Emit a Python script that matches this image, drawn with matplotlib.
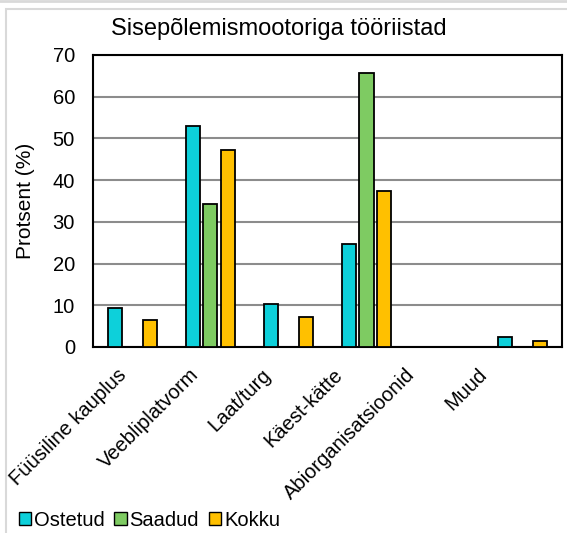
import matplotlib.pyplot as plt
import numpy as np
from matplotlib.patches import Rectangle
from matplotlib.lines import Line2D
from matplotlib.transforms import ScaledTranslation

plt.rcParams['font.family'] = ['Liberation Sans', 'DejaVu Sans']

categories = ['Füüsiline kauplus', 'Veebliplatvorm', 'Laat/turg',
              'Käest-kätte', 'Abiorganisatsioonid', 'Muud']
ostetud = [9.3, 53.0, 10.4, 24.6, 0, 2.3]
saadud = [0, 34.3, 0, 65.7, 0, 0]
kokku = [6.5, 47.2, 7.2, 37.3, 0, 1.5]

series = [('Ostetud', ostetud, '#0DD0DA'),
          ('Saadud', saadud, '#7ECB62'),
          ('Kokku', kokku, '#FFC000')]

fig = plt.figure(figsize=(5.67, 5.33), dpi=100)
ax = fig.add_axes([0.164, 0.349, 0.827, 0.548])

x = np.arange(len(categories))
width = 0.18
step = 0.224
for i, (name, vals, col) in enumerate(series):
    vals = np.array(vals, dtype=float)
    # zero values are not drawn in the original
    mask = vals > 0
    ax.bar(x[mask] + (i - 1) * step, vals[mask], width, color=col,
           edgecolor='black', linewidth=1.3, label=name, zorder=3)

ax.set_xlim(-0.5, len(categories) - 0.5)
ax.set_ylim(0, 70)
ax.set_yticks(range(0, 71, 10))
ax.yaxis.grid(True, color='#8c8c8c', linewidth=1.5, zorder=0)
ax.tick_params(axis='y', length=0, pad=13, labelsize=14.5)
ax.tick_params(axis='x', length=0, pad=13, labelsize=14.5)
ax.set_xticks(x)
ax.set_xticklabels(categories, rotation=45, ha='right', rotation_mode='anchor')
# labels in the original drift left a little more for every category
for i, lab in enumerate(ax.get_xticklabels()):
    dx = -(15 + 6.2 * i) / 100.0
    lab.set_transform(lab.get_transform() +
                      ScaledTranslation(dx, 0, fig.dpi_scale_trans))
for s in ax.spines.values():
    s.set_linewidth(1.5)
    s.set_color('black')

ax.set_ylabel('Protsent (%)', fontsize=15, labelpad=13)
fig.text(0.492, 0.946, 'Sisepõlemismootoriga tööriistad', ha='center',
         va='center', fontsize=17)

leg = fig.legend(loc='lower left', bbox_to_anchor=(0.015, -0.013), ncol=3,
                 frameon=False, fontsize=14.5, handlelength=0.6,
                 handleheight=0.6, handletextpad=0.15, columnspacing=0.5,
                 borderaxespad=0.1)
for h in leg.legend_handles:
    h.set_linewidth(1.0)

# outer chart frame
fig.add_artist(Rectangle((6 / 567, -0.1), 1.2, (533 - 9) / 533 + 0.1,
                         transform=fig.transFigure, fill=False,
                         edgecolor='#d9d9d9', linewidth=1.5))
fig.add_artist(Line2D([0, 1], [1 - 1 / 533, 1 - 1 / 533],
                      transform=fig.transFigure, color='#d9d9d9', linewidth=2))

fig.savefig('out.png', dpi=100)
